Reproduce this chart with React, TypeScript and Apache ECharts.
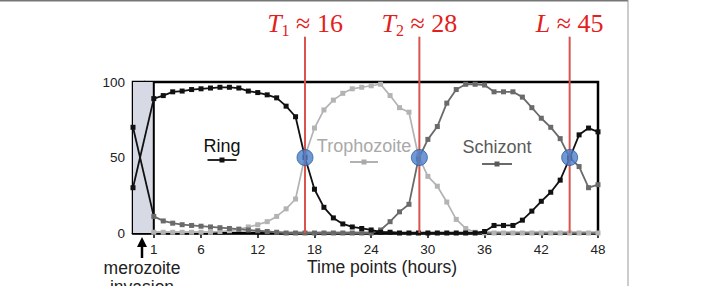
import React, { useEffect, useRef } from "react";
import * as echarts from "echarts";

// ---- data (hours 1..48) ----
const hours = [
  1, 2, 3, 4, 5, 6, 7, 8, 9, 10, 11, 12, 13, 14, 15, 16, 17, 18, 19, 20, 21, 22, 23, 24,
  25, 26, 27, 28, 29, 30, 31, 32, 33, 34, 35, 36, 37, 38, 39, 40, 41, 42, 43, 44, 45, 46, 47, 48,
];
const ring = [
  89, 91, 93.5, 94, 95, 95.5, 96, 96.5, 96.5, 96, 94, 93, 91.5, 89.5, 84, 77, 50, 29, 17, 10, 6, 4, 3, 2,
  0.5, 0.5, 0, 0, 0, 0, 0, 0, 0, 0, 0, 1, 5, 5, 5, 8.5, 14.5, 21, 27, 35, 49.5, 65, 69.5, 67,
];
const trophozoite = [
  0.5, 0.5, 0.5, 0.5, 0.5, 0.5, 0.5, 1, 1.5, 2.5, 4, 5.5, 7.5, 11, 16, 22.5, 51, 69.5, 81.5, 88, 92.5, 95.5, 96.5, 97.5,
  98.5, 91, 83, 80, 51, 37.5, 31, 20.5, 9, 3, 0.5, 0, 0, 0, 0, 0, 0, 0, 0, 0, 0, 0, 0, 0,
];
const schizont = [
  11, 8, 6.5, 5.5, 5, 4.5, 4, 3.5, 3, 2.5, 2, 1.5, 1, 0.5, 0, 0, 0, 0, 0, 0, 0, 0, 0, 0,
  2, 7.5, 14, 19, 49, 62, 70.5, 86, 95, 98.5, 98.5, 98, 93.5, 93.5, 93.5, 90, 83, 76, 70, 62.5, 50, 44, 30, 32,
];
const invasionHour = -1.2;
const invasionRing = 30;
const invasionSchizont = 70;
const crossHours = [17, 29.1, 45];
const crossValues = [50, 50, 50];
const crossSymbols = ["T", "T", "L"];
const crossSubs = ["1", "2", ""];
const crossNumbers = ["16", "28", "45"];
const redLineTop = 130;
const xTicks = [1, 6, 12, 18, 24, 30, 36, 42, 48];

const SANS = "Liberation Sans, Arial, sans-serif";

const pair = (arr: number[]) => hours.map((h, i) => [h, arr[i]]);

export default function App() {
  const ref = useRef<HTMLDivElement>(null);

  useEffect(() => {
    if (!ref.current) return;
    const chart = echarts.init(ref.current, null, { renderer: "svg" });

    const curve = (name: string, data: number[], color: string, z: number, width = 1.8) => ({
      name,
      type: "line",
      data: pair(data),
      symbol: "rect",
      symbolSize: 5,
      showAllSymbol: true,
      color,
      lineStyle: { color, width },
      itemStyle: { color },
      z,
    });

    const redLines = crossHours.map((h) => ({
      type: "line",
      data: [
        [h, 0],
        [h, redLineTop],
      ],
      clip: false,
      symbol: "none",
      lineStyle: { color: "#d9534f", width: 2 },
      z: 5,
      silent: true,
    }));

    const option: any = {
      animation: false,
      grid: {
        left: 133,
        right: 119,
        top: 82,
        bottom: 53,
        show: true,
        borderColor: "#000",
        borderWidth: 2.5,
        outerBoundsMode: "none",
      },
      xAxis: {
        type: "value",
        min: invasionHour,
        max: 48,
        splitLine: { show: false },
        axisLine: { show: true, lineStyle: { color: "#000", width: 2.5 } },
        axisTick: { show: true, customValues: xTicks, length: 5, lineStyle: { color: "#000", width: 1.5 } },
        axisLabel: { customValues: xTicks, color: "#222", fontSize: 13.5, fontFamily: SANS, margin: 9 },
      },
      yAxis: {
        type: "value",
        min: 0,
        max: 100,
        interval: 50,
        splitLine: { show: false },
        axisLine: { show: true, lineStyle: { color: "#000", width: 2.5 } },
        axisTick: { show: true, length: 6, lineStyle: { color: "#000", width: 1.5 } },
        axisLabel: { color: "#222", fontSize: 13.5, fontFamily: SANS, margin: 8 },
      },
      series: [
        {
          type: "line",
          data: [
            [1, 0],
            [1, 100],
          ],
          symbol: "none",
          lineStyle: { color: "#000", width: 2 },
          z: 1,
          silent: true,
          markArea: {
            silent: true,
            itemStyle: { color: "#d7d9e5" },
            data: [[{ xAxis: invasionHour }, { xAxis: 1 }]],
          },
        },
        {
          type: "line",
          data: [{ value: [invasionHour, invasionRing] }, { value: [1, ring[0]], symbol: "none" }],
          symbol: "rect",
          symbolSize: 5,
          color: "#111",
          lineStyle: { color: "#111", width: 1.8 },
          z: 3,
        },
        {
          type: "line",
          data: [{ value: [invasionHour, invasionSchizont] }, { value: [1, schizont[0]], symbol: "none" }],
          symbol: "rect",
          symbolSize: 5,
          color: "#111",
          lineStyle: { color: "#111", width: 1.8 },
          z: 3,
        },
        curve("Trophozoite", trophozoite, "#b3b3b3", 3, 1.7),
        curve("Schizont", schizont, "#6a6a6a", 3),
        curve("Ring", ring, "#111", 4),
        ...redLines,
        {
          type: "scatter",
          data: crossHours.map((h, i) => [h, crossValues[i]]),
          symbolSize: 16,
          itemStyle: { color: "#4b7fcb", borderColor: "#2d5c9c", borderWidth: 1 },
          z: 6,
        },
      ],
    };
    chart.setOption(option);

    const annotations = crossHours.map((h, i) => {
      const [px] = chart.convertToPixel({ gridIndex: 0 }, [h, 0]) as number[];
      const sub = crossSubs[i] ? `{s|${crossSubs[i]}}` : "";
      return {
        type: "text",
        x: px,
        y: 23,
        z: 10,
        style: {
          text: `{t|${crossSymbols[i]}}${sub}{n| ≈ ${crossNumbers[i]}}`,
          align: "center",
          verticalAlign: "middle",
          fill: "#e3211c",
          rich: {
            t: { fontFamily: "Liberation Serif, serif", fontStyle: "italic", fontSize: 26, lineHeight: 30, fill: "#e3211c" },
            s: { fontFamily: "Liberation Serif, serif", fontSize: 16, lineHeight: 16, verticalAlign: "bottom", fill: "#e3211c" },
            n: { fontFamily: "Liberation Serif, serif", fontSize: 26, lineHeight: 30, fill: "#e3211c" },
          },
        },
      };
    });

    const legendItem = (label: string, color: string, cx: number, ty: number, ly: number, half: number) => [
      {
        type: "text",
        x: cx,
        y: ty,
        style: { text: label, fill: color, font: `18px ${SANS}`, align: "center", verticalAlign: "middle" },
      },
      {
        type: "line",
        shape: { x1: cx - half, y1: ly, x2: cx + half, y2: ly },
        style: { stroke: color, lineWidth: 1.8 },
      },
      {
        type: "rect",
        shape: { x: cx - 2.5, y: ly - 2.5, width: 5, height: 5 },
        style: { fill: color },
      },
    ];

    const graphics: any[] = [
      { type: "line", shape: { x1: 0, y1: 0.75, x2: 628, y2: 0.75 }, style: { stroke: "#777", lineWidth: 1.5 } },
      { type: "line", shape: { x1: 628, y1: 0, x2: 628, y2: 286 }, style: { stroke: "#999", lineWidth: 1 } },
      ...legendItem("Ring", "#111", 222, 146, 160, 14.5),
      ...legendItem("Trophozoite", "#a9a9a9", 364, 145.5, 162, 14),
      ...legendItem("Schizont", "#5a5a5a", 497, 146.5, 164, 15),
      { type: "line", shape: { x1: 142, y1: 244, x2: 142, y2: 258 }, style: { stroke: "#000", lineWidth: 2.5 } },
      { type: "polygon", shape: { points: [[137, 247], [147, 247], [142, 237]] }, style: { fill: "#000" } },
      {
        type: "text",
        x: 142,
        y: 268,
        style: { text: "merozoite", fill: "#222", font: `17.5px ${SANS}`, align: "center", verticalAlign: "middle" },
      },
      {
        type: "text",
        x: 142,
        y: 287,
        style: { text: "invasion", fill: "#222", font: `17.5px ${SANS}`, align: "center", verticalAlign: "middle" },
      },
      {
        type: "text",
        x: 382,
        y: 267,
        style: { text: "Time points (hours)", fill: "#222", font: `17.5px ${SANS}`, align: "center", verticalAlign: "middle" },
      },
      ...annotations,
    ];
    chart.setOption({ graphic: graphics });

    return () => chart.dispose();
  }, []);

  return (
    <div
      ref={ref}
      style={{ position: "fixed", left: 0, top: 0, width: 717, height: 286, background: "#fff" }}
    />
  );
}
